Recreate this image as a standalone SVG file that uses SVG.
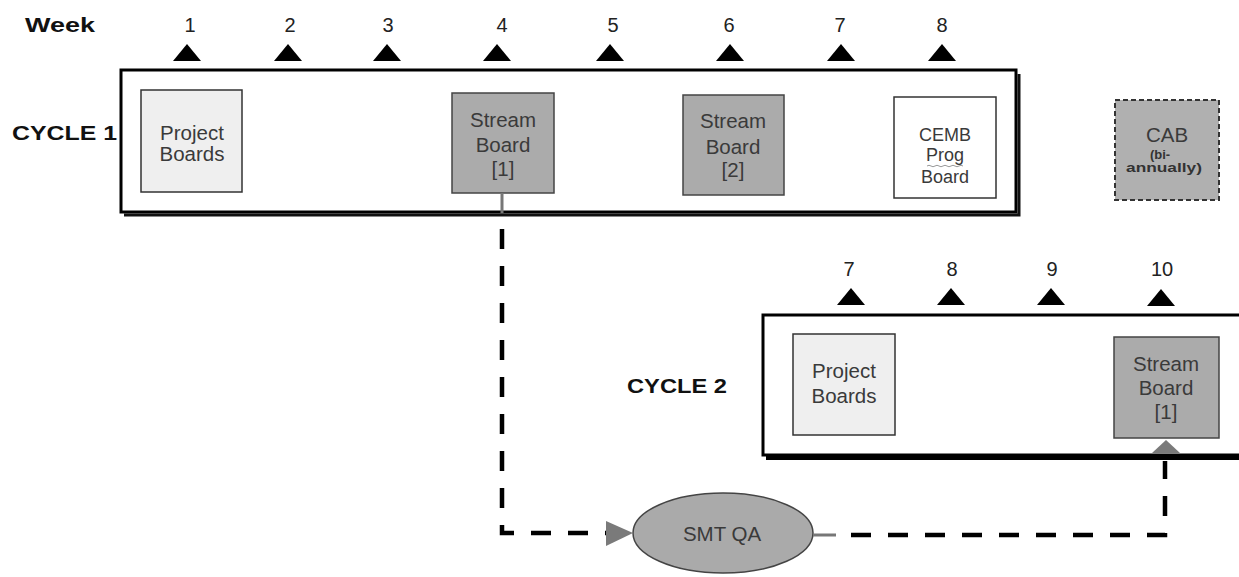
<svg xmlns="http://www.w3.org/2000/svg" width="1239" height="577" viewBox="0 0 1239 577">
<style>
  .num{font-family:"Liberation Sans",Arial,sans-serif;font-size:20px;fill:#222;text-anchor:middle}
  .lbl{font-family:"Liberation Sans",Arial,sans-serif;font-size:20px;font-weight:bold;fill:#111}
  .bt{font-family:"Liberation Sans",Arial,sans-serif;font-size:20.5px;fill:#3a3a3a;text-anchor:middle}
  .bs{font-family:"Liberation Sans",Arial,sans-serif;font-size:18px;fill:#3a3a3a;text-anchor:middle}
  .sm{font-family:"Liberation Sans",Arial,sans-serif;font-size:13px;font-weight:bold;fill:#333;text-anchor:middle}
  .tri{fill:#000}
  .frame{fill:#fff;stroke:#000;stroke-width:3}
  .shadow{fill:none;stroke:#111;stroke-width:3}
  .light{fill:#efefef;stroke:#333;stroke-width:1.5}
  .dark{fill:#ababab;stroke:#444;stroke-width:1.5}
  .white{fill:#fff;stroke:#333;stroke-width:1.5}
  .dash{fill:none;stroke:#000;stroke-width:4.5;stroke-dasharray:20 17}
  .stub{stroke:#777;stroke-width:3}
  .ah{fill:#7a7a7a}
</style>
<rect width="1239" height="577" fill="#fff"/>

<g id="header">
  <text class="lbl" x="25" y="32" textLength="70" lengthAdjust="spacingAndGlyphs">Week</text>
  <text class="num" x="190" y="32">1</text>
  <text class="num" x="290" y="32">2</text>
  <text class="num" x="388" y="32">3</text>
  <text class="num" x="502" y="32">4</text>
  <text class="num" x="613" y="32">5</text>
  <text class="num" x="729" y="32">6</text>
  <text class="num" x="840" y="32">7</text>
  <text class="num" x="942" y="32">8</text>
  <polygon class="tri" points="173,61 187,44 201,61"/>
  <polygon class="tri" points="274,61 288,44 302,61"/>
  <polygon class="tri" points="373,61 387,44 401,61"/>
  <polygon class="tri" points="483,61 497,44 511,61"/>
  <polygon class="tri" points="596,61 610,44 624,61"/>
  <polygon class="tri" points="716,61 730,44 744,61"/>
  <polygon class="tri" points="827,61 841,44 855,61"/>
  <polygon class="tri" points="928,61 942,44 956,61"/>
</g>

<g id="cycle1">
  <rect class="frame" x="121" y="70" width="895" height="142"/>
  <polyline class="shadow" points="1019,74 1019,215 124,215"/>
  <text class="lbl" x="12" y="140" textLength="105" lengthAdjust="spacingAndGlyphs">CYCLE 1</text>
</g>

<g id="c1-project-boards">
  <rect class="light" x="141" y="90" width="101" height="102"/>
  <text class="bt" x="192" y="140">Project</text>
  <text class="bt" x="192" y="161">Boards</text>
</g>

<g id="c1-stream-board-1">
  <rect class="dark" x="452" y="93" width="102" height="100"/>
  <text class="bt" x="503" y="127">Stream</text>
  <text class="bt" x="503" y="152">Board</text>
  <text class="bt" x="503" y="176">[1]</text>
</g>

<g id="c1-stream-board-2">
  <rect class="dark" x="683" y="95" width="101" height="100"/>
  <text class="bt" x="733" y="128">Stream</text>
  <text class="bt" x="733" y="154">Board</text>
  <text class="bt" x="733" y="177">[2]</text>
</g>

<g id="cemb-prog-board">
  <rect class="white" x="894" y="97" width="102" height="101"/>
  <text class="bs" x="945" y="141">CEMB</text>
  <text class="bs" x="945" y="161">Prog</text>
  <path d="M927,166 q2,-1.5 4,0 t4,0 t4,0 t4,0 t4,0 t4,0 t4,0 t4,0 t4,0" fill="none" stroke="#999" stroke-width="1"/>
  <text class="bs" x="945" y="183">Board</text>
</g>

<g id="cab">
  <rect x="1115" y="100" width="104" height="100" fill="#b0b0b0" stroke="#333" stroke-width="2" stroke-dasharray="5 3"/>
  <text class="bt" x="1167" y="142">CAB</text>
  <text class="sm" x="1160" y="159">(bi-</text>
  <text class="sm" x="1164" y="172" textLength="76" lengthAdjust="spacingAndGlyphs">annually)</text>
</g>

<g id="header2">
  <text class="num" x="849" y="276">7</text>
  <text class="num" x="952" y="276">8</text>
  <text class="num" x="1052" y="276">9</text>
  <text class="num" x="1162" y="276">10</text>
  <polygon class="tri" points="837,305 851,288 865,305"/>
  <polygon class="tri" points="937,305 951,288 965,305"/>
  <polygon class="tri" points="1037,305 1051,288 1065,305"/>
  <polygon class="tri" points="1147,306 1161,289 1175,306"/>
</g>

<g id="cycle2">
  <rect class="frame" x="763" y="315" width="500" height="140"/>
  <line x1="766" y1="458" x2="1239" y2="458" stroke="#000" stroke-width="4"/>
  <text class="lbl" x="627" y="393" textLength="100" lengthAdjust="spacingAndGlyphs">CYCLE 2</text>
</g>

<g id="c2-project-boards">
  <rect class="light" x="793" y="334" width="102" height="101"/>
  <text class="bt" x="844" y="378">Project</text>
  <text class="bt" x="844" y="403">Boards</text>
</g>

<g id="c2-stream-board-1">
  <rect class="dark" x="1114" y="337" width="105" height="101"/>
  <text class="bt" x="1166" y="371">Stream</text>
  <text class="bt" x="1166" y="395">Board</text>
  <text class="bt" x="1166" y="419">[1]</text>
</g>

<g id="smt-qa">
  <ellipse cx="723" cy="533" rx="90" ry="40" fill="#aaaaaa" stroke="#444" stroke-width="1.5"/>
  <text class="bt" x="722" y="541">SMT QA</text>
</g>

<g id="connectors">
  <line class="stub" x1="502" y1="193" x2="502" y2="213"/>
  <path class="dash" d="M502,229 V533 H606"/>
  <polygon class="ah" points="606,521 633,533 606,546"/>
  <line class="stub" x1="813" y1="535" x2="836" y2="535"/>
  <path class="dash" d="M851,535 H1165 V461"/>
  <polygon class="ah" points="1152,453 1166,440 1180,453"/>
</g>
</svg>
